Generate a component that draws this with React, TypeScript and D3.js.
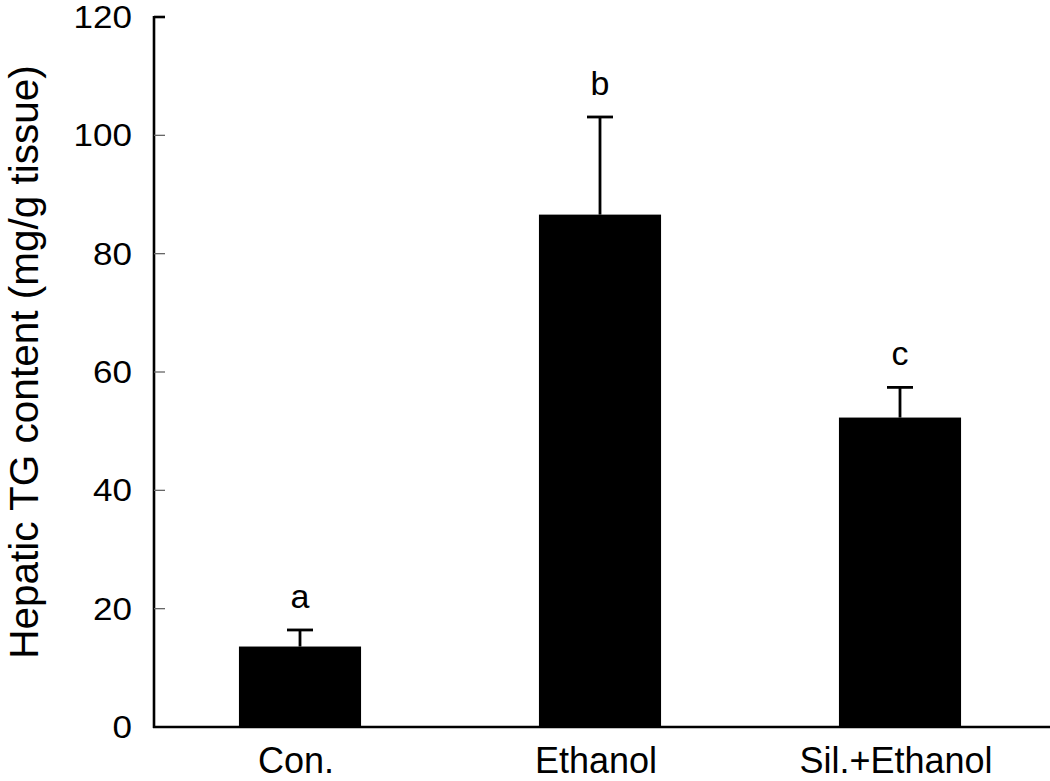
import * as d3 from "d3";
import React from "react";

const categories = ["Con.", "Ethanol", "Sil.+Ethanol"];
const means = [13.6, 86.6, 52.3];
const errors = [2.8, 16.5, 5.1];
const letters = ["a", "b", "c"];
const yTicks = [0, 20, 40, 60, 80, 100, 120];

const W = 1050;
const H = 781;
const axisX = 154;
const font = "'Liberation Sans', Arial, sans-serif";

export default function App() {
  const y = d3.scaleLinear().domain([0, 120]).range([727, 17]);
  const x = d3
    .scaleBand<string>()
    .domain(categories)
    .range([150, 1050])
    .paddingInner(0.593)
    .paddingOuter(0.2965);
  const bw = x.bandwidth();

  return (
    <svg
      width={W}
      height={H}
      style={{ position: "absolute", left: 0, top: 0, background: "#fff" }}
    >
      {/* bars */}
      {categories.map((c, i) => (
        <rect
          key={c}
          x={x(c)}
          y={y(means[i])}
          width={bw}
          height={y(0) - y(means[i])}
          fill="#000"
        />
      ))}

      {/* error bars (upper only) */}
      {categories.map((c, i) => {
        const cx = (x(c) as number) + bw / 2;
        const top = y(means[i] + errors[i]);
        return (
          <g key={"e" + c} stroke="#000" strokeWidth={2.8}>
            <line x1={cx} x2={cx} y1={y(means[i])} y2={top} />
            <line x1={cx - 13} x2={cx + 13} y1={top} y2={top} />
          </g>
        );
      })}

      {/* significance letters */}
      {categories.map((c, i) => (
        <text
          key={"l" + c}
          x={(x(c) as number) + bw / 2}
          y={y(means[i] + errors[i]) - 22}
          textAnchor="middle"
          fontFamily={font}
          fontSize={34}
          fill="#000"
        >
          {letters[i]}
        </text>
      ))}

      {/* y axis */}
      <line x1={axisX} x2={axisX} y1={y(120) - 1} y2={y(0) + 1} stroke="#000" strokeWidth={2.6} />
      {yTicks.map((t) => (
        <g key={"t" + t}>
          <line
            x1={axisX}
            x2={axisX + 11}
            y1={y(t)}
            y2={y(t)}
            stroke={t === 120 ? "#000" : "#666"}
            strokeWidth={t === 120 ? 2.6 : 1.3}
          />
          <text
            transform={`translate(132,${y(t) + 11}) scale(1.13,1)`}
            textAnchor="end"
            fontFamily={font}
            fontSize={31}
            fill="#000"
          >
            {t}
          </text>
        </g>
      ))}

      {/* x axis */}
      <line x1={axisX - 1} x2={W} y1={y(0)} y2={y(0)} stroke="#000" strokeWidth={2.6} />
      {categories.map((c) => (
        <text
          key={"c" + c}
          x={(x(c) as number) + bw / 2 - 4}
          y={773}
          textAnchor="middle"
          fontFamily={font}
          fontSize={36}
          fill="#000"
        >
          {c}
        </text>
      ))}

      {/* y axis title */}
      <text
        transform="translate(38,362) rotate(-90)"
        textAnchor="middle"
        fontFamily={font}
        fontSize={40.5}
        fill="#000"
      >
        Hepatic TG content (mg/g tissue)
      </text>
    </svg>
  );
}
